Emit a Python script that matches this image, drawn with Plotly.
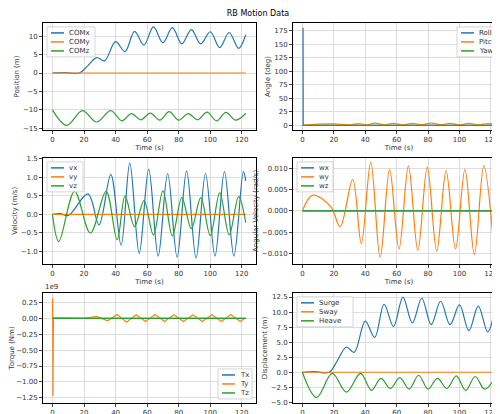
import plotly.graph_objects as go

# ---- data (extrema points, smoothed by spline) ----
COMX_T = [0, 8, 17, 22, 28, 33, 40, 46, 52, 58, 64, 70, 76, 82, 88, 94, 100, 106, 112, 118, 122.5]
COMX_V = [0, 0.1, 0, 1.8, 4.2, 3.3, 8.5, 5.8, 11.3, 7.6, 12.5, 8.2, 12.3, 7.9, 11.8, 7.9, 11.2, 6.9, 11.0, 6.7, 10.4]
COMZ_T = [0, 9, 19, 28, 37, 44, 50, 56, 62, 68, 74, 80, 86, 92, 98, 104, 110, 116, 122.5]
COMZ_V = [-10, -14.2, -10.2, -13.3, -10.2, -13.0, -11.0, -12.7, -10.9, -12.8, -10.5, -12.8, -11.0, -12.7, -10.6, -13.0, -10.7, -12.8, -11.0]
T_END = [0, 122.5]
ZERO = [0, 0]

ROLL_T = [0, 0.4, 0.5, 122.5]
ROLL_V = [180, 180, 0, 0]
PITCH_T = [0, 10, 20, 30, 36, 42, 46, 52, 58, 64, 70, 76, 82, 88, 94, 100, 106, 112, 118, 122.5]
PITCH_V = [0, 2, 2.5, 1, 3, 1, 4, 1, 3.5, 1, 3.5, 1, 4, 1, 3.5, 1, 3.5, 1, 3, 2]

VX_T = [0, 5, 10, 22.5, 29.5, 37, 43.5, 49, 55, 61, 67, 73, 79, 85, 91, 97, 103, 109, 115, 121, 122.5]
VX_V = [0, 0.02, -0.03, 0.55, -0.28, 1.07, -0.83, 1.38, -1.05, 1.22, -1.12, 1.1, -1.15, 1.17, -1.17, 1.1, -1.12, 1.15, -1.12, 1.15, 0.9]
VZ_T = [0, 4, 14, 24, 34, 41, 46, 52, 58, 64, 70, 76, 82, 88, 94, 100, 106, 112, 118, 122.5]
VZ_V = [0, -0.73, 0.62, -0.5, 0.62, -0.68, 0.5, -0.33, 0.37, -0.55, 0.63, -0.58, 0.45, -0.38, 0.45, -0.57, 0.58, -0.55, 0.48, -0.22]

WY_T = [0, 6.5, 18, 24, 32, 37.5, 43.5, 49.5, 55.5, 61.5, 67.5, 73.5, 79.5, 85.5, 91.5, 97.5, 103.5, 109.5, 115.5, 122]
WY_V = [0, 0.0037, 0.001, -0.0037, 0.0074, -0.0077, 0.0115, -0.011, 0.0098, -0.009, 0.0106, -0.0093, 0.0103, -0.0095, 0.0095, -0.009, 0.0098, -0.0103, 0.0106, -0.0093]

TY_T = [0, 0.15, 0.3, 0.6, 20, 28, 35, 41, 47, 53, 59, 65, 71, 77, 83, 89, 95, 101, 107, 113, 119, 122.5]
TY_1E9 = [0, 0.32, -1.22, 0.01, 0, 0.03, -0.04, 0.06, -0.06, 0.055, -0.05, 0.06, -0.05, 0.055, -0.05, 0.055, -0.05, 0.055, -0.05, 0.06, -0.05, 0.01]

HEAVE_V = [v + 10 for v in COMZ_V]

C1, C2, C3 = "#1f77b4", "#ff7f0e", "#2ca02c"
XD = [[0.07, 0.496], [0.57, 0.994]]
YD = [[0.705, 0.964], [0.382, 0.638], [0.046, 0.312]]

fig = go.Figure()
FONT = dict(family="DejaVu Sans", size=7, color="#333")
legends = {}

def add(idx, x, y, name, color, shape="spline"):
    ax = "" if idx == 1 else str(idx)
    fig.add_trace(go.Scatter(x=x, y=y, name=name, mode="lines", showlegend=False,
                             line=dict(color=color, width=1.2, shape=shape, smoothing=1.0),
                             xaxis="x" + ax, yaxis="y" + ax))
    legends.setdefault(idx, []).append((name, color))

add(1, COMX_T, COMX_V, "COMx", C1)
add(1, T_END, ZERO, "COMy", C2, "linear")
add(1, COMZ_T, COMZ_V, "COMz", C3)
add(2, ROLL_T, ROLL_V, "Roll", C1, "linear")
add(2, PITCH_T, PITCH_V, "Pitch", C2)
add(2, T_END, ZERO, "Yaw", C3, "linear")
add(3, VX_T, VX_V, "vx", C1)
add(3, T_END, ZERO, "vy", C2, "linear")
add(3, VZ_T, VZ_V, "vz", C3)
add(4, T_END, ZERO, "wx", C1, "linear")
add(4, WY_T, WY_V, "wy", C2)
add(4, T_END, ZERO, "wz", C3, "linear")
add(5, T_END, ZERO, "Tx", C1, "linear")
add(5, TY_T, TY_1E9, "Ty", C2, "linear")
add(5, T_END, ZERO, "Tz", C3, "linear")
add(6, COMX_T, COMX_V, "Surge", C1)
add(6, T_END, ZERO, "Sway", C2, "linear")
add(6, COMZ_T, HEAVE_V, "Heave", C3)

YT = ["Position (m)", "Angle (deg)", "Velocity (m/s)", "Angular Velocity (rad/s)", "Torque (Nm)", "Displacement (m)"]
YR = [[-15.5, 13.6], [-9, 190], [-1.33, 1.52], [-0.0125, 0.0125], [-1.33, 0.4], [-5.1, 13.2]]
YDT = [5, 25, 0.5, 0.005, 0.25, 2.5]
LEGPOS = ["tl", "tr", "tl", "tl", "br", "tl"]
LEGW = [48, 44, 36, 36, 34, 56]

W, H = 500, 414
lay = dict(width=W, height=H, margin=dict(l=0, r=0, t=0, b=0),
           paper_bgcolor="white", plot_bgcolor="white", font=FONT,
           title=dict(text="RB Motion Data", x=0.5, y=0.993, yanchor="top", font=dict(size=8, color="black")))
shapes, annots = [], []
for i in range(6):
    r, c = i // 2, i % 2
    s = "" if i == 0 else str(i + 1)
    axcommon = dict(showline=True, mirror=True, linecolor="black", linewidth=0.8, automargin=False,
                    gridcolor="#dddddd", ticks="outside", ticklen=3, zeroline=False,
                    tickfont=dict(size=7, color="#333"))
    lay["xaxis" + s] = dict(domain=XD[c], anchor="y" + s, range=[-6, 129], dtick=20,
                            title=dict(text="Time (s)", standoff=1, font=dict(size=7)), **axcommon)
    lay["yaxis" + s] = dict(domain=YD[r], anchor="x" + s, range=YR[i], dtick=YDT[i],
                            title=dict(text=YT[i], standoff=2, font=dict(size=7)), **axcommon)
    # manual compact legend box
    p = LEGPOS[i]
    bw, bh, rowh = LEGW[i] / W, 30 / H, 9 / H
    x0 = XD[c][0] + 4 / W if p[1] == "l" else XD[c][1] - 4 / W - bw
    y1 = YD[r][1] - 4 / H if p[0] == "t" else YD[r][0] + 4 / H + bh
    shapes.append(dict(type="rect", xref="paper", yref="paper", x0=x0, x1=x0 + bw, y0=y1 - bh, y1=y1,
                       fillcolor="rgba(255,255,255,0.85)", line=dict(color="#cccccc", width=0.8)))
    for k, (nm, col) in enumerate(legends[i + 1]):
        yy = y1 - 6 / H - k * rowh
        shapes.append(dict(type="line", xref="paper", yref="paper", x0=x0 + 4 / W, x1=x0 + 17 / W,
                           y0=yy, y1=yy, line=dict(color=col, width=1.5)))
        annots.append(dict(text=nm, x=x0 + 20 / W, y=yy, xref="paper", yref="paper", xanchor="left",
                           yanchor="middle", showarrow=False, font=dict(size=7, color="#333")))
lay["yaxis5"]["tickformat"] = ".2f"
lay["yaxis4"]["tickformat"] = ".3f"
lay["yaxis3"]["tickformat"] = ".1f"
lay["yaxis6"]["tickformat"] = ".1f"
annots.append(dict(text="1e9", x=XD[0][0], y=YD[2][1], xref="paper", yref="paper",
                   xanchor="left", yanchor="bottom", showarrow=False, font=dict(size=7, color="#333")))
lay["shapes"] = shapes
lay["annotations"] = annots
fig.update_layout(**lay)
fig.write_html("out.html")
